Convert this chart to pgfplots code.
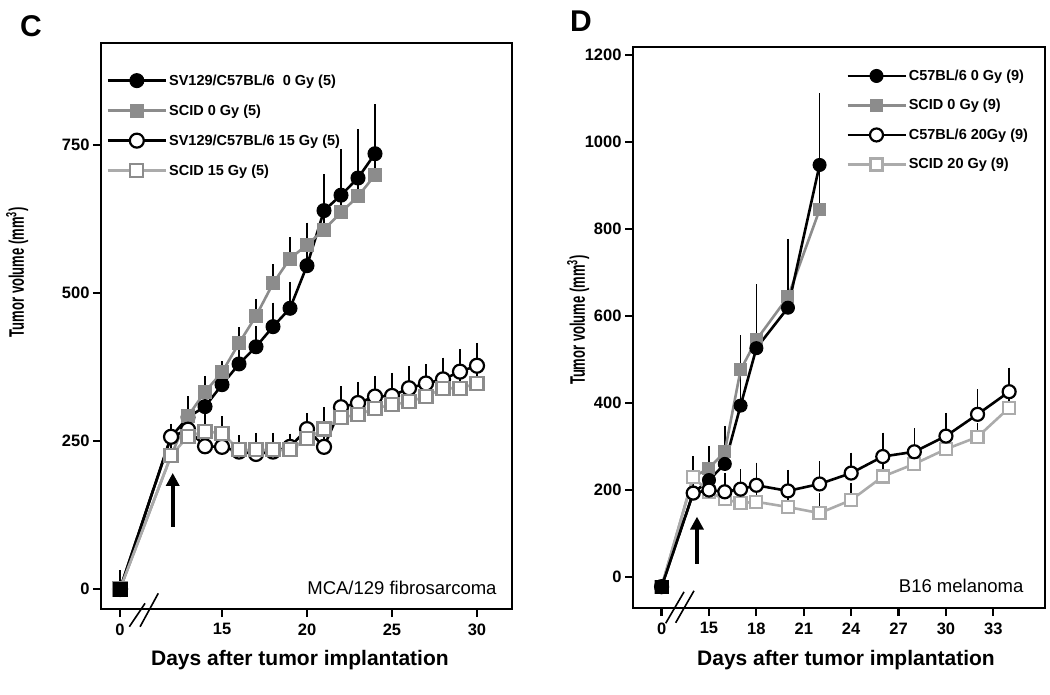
\documentclass[border=0pt]{standalone}
\usepackage{pgfplots}
\pgfplotsset{compat=1.18}
\usepackage{pgfplotstable}
\usepackage{graphicx}
\usepackage{fontspec}
\setmainfont{Liberation Sans}
\usetikzlibrary{arrows.meta}
\definecolor{gA}{HTML}{8C8C8C}
\definecolor{gB}{HTML}{ABABAB}

% ---------- Panel C (day 0 is drawn at axis position 9) ----------
\pgfplotstableread{
x y e
9 0 25
12 257 15
13 290 20
14 308 25
15 345 25
16 380 25
17 409 28
18 443 34
19 474 38
20 546 40
21 639 55
22 665 71
23 694 76
24 735 77
}\LbZero
\pgfplotstableread{
x y e
9 0 0
12 225 15
13 292 27
14 333 20
15 366 12
16 415 20
17 461 22
18 516 26
19 558 29
20 581 31
21 607 35
22 636 40
23 663 40
24 699 40
}\LgZero
\pgfplotstableread{
x y e
9 0 0
12 257 10
13 269 20
14 241 20
15 240 20
16 232 15
17 228 15
18 232 15
19 240 15
20 270 20
21 240 20
22 307 29
23 314 29
24 325 28
25 326 32
26 339 31
27 347 26
28 354 30
29 367 31
30 377 32
}\LbFif
\pgfplotstableread{
x y e
9 0 0
12 225 10
13 258 15
14 266 28
15 263 22
16 235 18
17 235 22
18 235 22
19 235 20
20 254 36
21 270 30
22 290 20
23 294 18
24 305 18
25 311 18
26 316 18
27 325 18
28 339 15
29 339 15
30 347 15
}\LgFif
\pgfplotstableread{
x y
9 0
}\LzeroPt

% ---------- Panel D (day 0 is drawn at axis position 12) ----------
\pgfplotstableread{
x y e
12 -22 0
14 193 69
15 223 54
16 260 63
17 394 60
18 526 107
20 619 126
22 947 155
}\RbZero
\pgfplotstableread{
x y e
12 -22 0
14 230 39
15 250 42
16 288 50
17 476 71
18 545 119
20 644 124
22 844 126
}\RgZero
\pgfplotstableread{
x y e
12 -22 0
14 193 0
15 200 30
16 196 34
17 202 37
18 211 43
20 198 39
22 214 43
24 239 38
26 277 46
28 288 45
30 324 44
32 374 49
34 426 46
}\RbTw
\pgfplotstableread{
x y e
12 -22 0
14 230 0
15 195 20
16 179 25
17 170 25
18 173 25
20 161 25
22 147 37
24 177 30
26 231 25
28 260 25
30 294 25
32 322 23
34 389 20
}\RgTw
\pgfplotstableread{
x y
12 -22
}\RzeroPt

\pgfplotsset{
  panel/.style={
    scale only axis, clip=false,
    axis line style={line width=2.6pt},
    tick align=outside, major tick length=8pt,
    tick style={line width=2.2pt, black},
    xtick pos=bottom, ytick pos=left,
    /pgf/number format/assume math mode=true,
    /pgf/number format/1000 sep={},
    tick label style={font=\bfseries\fontsize{16.5}{19}\selectfont},
    xticklabel style={yshift=-3pt},
    xlabel style={font=\bfseries\fontsize{21}{24}\selectfont},
    ylabel style={font=\bfseries\fontsize{21}{24}\selectfont},
    legend cell align=left,
    legend image code/.code={
      \draw[mark repeat=2,mark phase=2,#1] plot coordinates {(0pt,0pt) (29pt,0pt) (58pt,0pt)};
    },
  },
  ebar/.style={forget plot, draw=none, mark=none,
    error bars/.cd, y dir=plus, y explicit,
    error bar style={draw=black, solid, line width=1.6pt},
    error mark options={draw=black, solid, line width=1.6pt, mark size=4pt}},
  sBlk/.style={black, line width=2.6pt, mark=*, mark size=7pt, mark options={fill=black, draw=black, line width=1pt}},
  sGry/.style={gA, line width=2.6pt, mark=square*, mark size=6.5pt, mark options={fill=gA, draw=gA, line width=1pt}},
  sOpn/.style={black, line width=2.6pt, mark=*, mark size=7pt, mark options={fill=white, draw=black, line width=2.2pt}},
  sOsq/.style={gB, line width=2.6pt, mark=square*, mark size=6.5pt, mark options={fill=white, draw=gA, line width=2.2pt}},
}

\begin{document}
\begin{tikzpicture}[x=1pt,y=1pt]
\useasboundingbox (0,0) rectangle (1050,694);

\node[font=\bfseries\fontsize{30}{32}\selectfont] at (31,668) {C};
\node[font=\bfseries\fontsize{30}{32}\selectfont] at (581,673) {D};

% ================= Panel C =================
\begin{axis}[panel,
  at={(101pt,85pt)}, anchor=south west,
  width=411pt, height=566pt,
  xmin=7.88, xmax=32.06, ymin=-33.8, ymax=922,
  xtick={9,15,20,25,30}, xticklabels={0,15,20,25,30},
  ytick={0,250,500,750},
  xlabel={Days after tumor implantation},
  ylabel={\scalebox{0.62}[1]{Tumor volume (mm\textsuperscript{3})}},
  xlabel style={at={(axis description cs:0.484,-0.09)}, anchor=center},
  ylabel style={at={(axis description cs:-0.204,0.595)}, anchor=center},
  legend style={draw=none, fill=none, at={(axis description cs:0.013,0.948)}, anchor=north west,
    font=\bfseries\fontsize{14.5}{16}\selectfont, row sep=14pt, inner sep=0pt},
]
\addplot[ebar] table[x=x,y=y,y error=e] {\LbZero};
\addplot[ebar] table[x=x,y=y,y error=e] {\LgZero};
\addplot[ebar] table[x=x,y=y,y error=e] {\LbFif};
\addplot[ebar] table[x=x,y=y,y error=e] {\LgFif};
\addplot[sBlk] table[x=x,y=y] {\LbZero};
\addlegendentry{SV129/C57BL/6\ \ 0 Gy (5)}
\addplot[sGry] table[x=x,y=y] {\LgZero};
\addlegendentry{SCID 0 Gy (5)}
\addplot[sOpn] table[x=x,y=y] {\LbFif};
\addlegendentry{SV129/C57BL/6 15 Gy (5)}
\addplot[sOsq] table[x=x,y=y] {\LgFif};
\addlegendentry{SCID 15 Gy (5)}
\addplot[forget plot, only marks, mark=square*, mark size=7pt, black] table[x=x,y=y] {\LzeroPt};
\draw[-{Triangle[length=13pt,width=13pt]}, line width=4pt] (axis cs:12.1,105) -- (axis cs:12.1,196);
\draw[line width=1.6pt] (axis cs:9.55,-63.7) -- (axis cs:10.47,-24.2);
\draw[line width=1.6pt] (axis cs:10.18,-63.7) -- (axis cs:11.25,-7.3);
\node[anchor=east, font=\fontsize{18.5}{20}\selectfont] at (axis description cs:0.971,0.037) {MCA/129 fibrosarcoma};
\end{axis}

% ================= Panel D =================
\begin{axis}[panel,
  at={(633pt,86pt)}, anchor=south west,
  width=412pt, height=561pt,
  xmin=10.19, xmax=36.27, ymin=-71, ymax=1218,
  xtick={12,15,18,21,24,27,30,33}, xticklabels={0,15,18,21,24,27,30,33},
  ytick={0,200,400,600,800,1000,1200},
  xlabel={Days after tumor implantation},
  ylabel={\scalebox{0.62}[1]{Tumor volume (mm\textsuperscript{3})}},
  xlabel style={at={(axis description cs:0.517,-0.093)}, anchor=center},
  ylabel style={at={(axis description cs:-0.133,0.513)}, anchor=center},
  legend style={draw=none, fill=none, at={(axis description cs:0.517,0.963)}, anchor=north west,
    font=\bfseries\fontsize{14.5}{16}\selectfont, row sep=13.5pt, inner sep=0pt},
]
\addlegendimage{sBlk, mark size=6.5pt}
\addlegendentry{C57BL/6 0 Gy (9)}
\addlegendimage{sGry, mark size=6pt}
\addlegendentry{SCID 0 Gy (9)}
\addlegendimage{sOpn, mark size=6.5pt}
\addlegendentry{C57BL/6 20Gy (9)}
\addlegendimage{sOsq, mark size=6pt, draw=gB, mark options={fill=white, draw=gB, line width=2.2pt}}
\addlegendentry{SCID 20 Gy (9)}
\addplot[ebar] table[x=x,y=y,y error=e] {\RbZero};
\addplot[ebar] table[x=x,y=y,y error=e] {\RgZero};
\addplot[ebar] table[x=x,y=y,y error=e] {\RbTw};
\addplot[ebar] table[x=x,y=y,y error=e] {\RgTw};
\addplot[forget plot, sGry, mark size=6pt] table[x=x,y=y] {\RgZero};
\addplot[forget plot, sBlk, mark size=6.5pt] table[x=x,y=y] {\RbZero};
\addplot[forget plot, sOsq, mark size=6pt, draw=gB, mark options={fill=white, draw=gB, line width=2.2pt}] table[x=x,y=y] {\RgTw};
\addplot[forget plot, sOpn, mark size=6.5pt] table[x=x,y=y] {\RbTw};
\addplot[forget plot, only marks, mark=square*, mark size=6.5pt, black] table[x=x,y=y] {\RzeroPt};
\draw[-{Triangle[length=13pt,width=13pt]}, line width=4pt] (axis cs:14.24,31) -- (axis cs:14.24,139);
\draw[line width=1.6pt] (axis cs:12.26,-106) -- (axis cs:13.42,-34);
\draw[line width=1.6pt] (axis cs:12.89,-105) -- (axis cs:14.05,-31.5);
\node[anchor=east, font=\fontsize{18.5}{20}\selectfont] at (axis description cs:0.956,0.039) {B16 melanoma};
\end{axis}
\end{tikzpicture}
\end{document}
